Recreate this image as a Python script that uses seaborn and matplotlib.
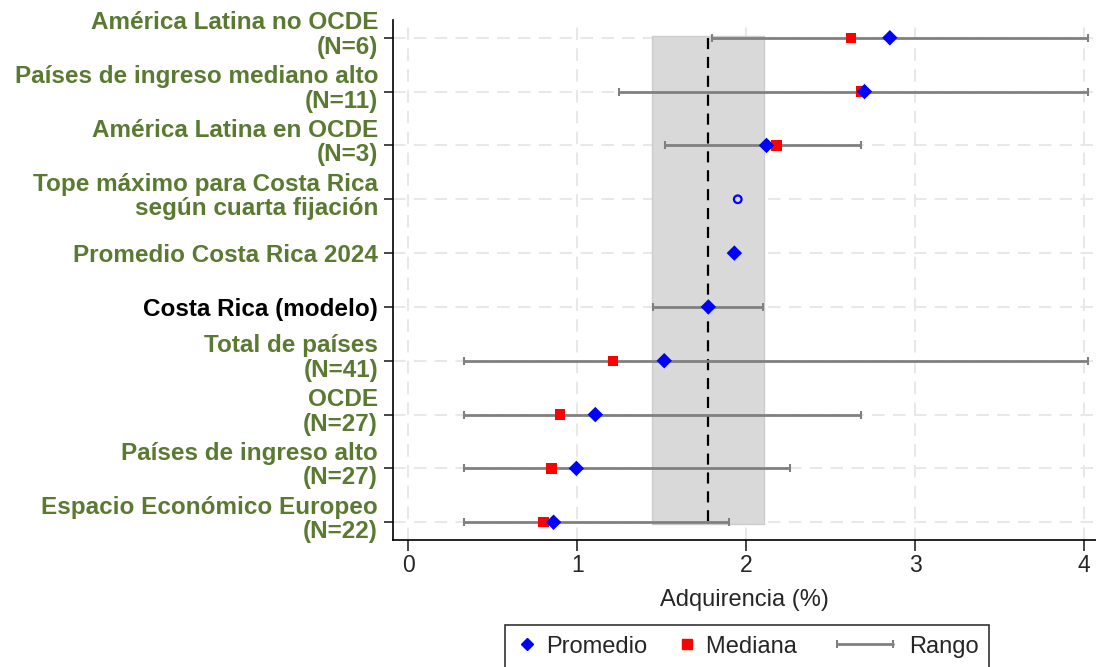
"""Adquirencia por grupo de países: promedio, mediana y rango."""

import matplotlib
matplotlib.use("Agg")

import matplotlib.pyplot as plt
import matplotlib.transforms as mtransforms
import numpy as np
import pandas as pd
import seaborn as sns
from matplotlib.legend_handler import HandlerLine2D
from matplotlib.lines import Line2D


grupos = [
    "América Latina no OCDE\n(N=6)",
    "Países de ingreso mediano alto\n(N=11)",
    "América Latina en OCDE\n(N=3)",
    "Tope máximo para Costa Rica\nsegún cuarta fijación",
    "Promedio Costa Rica 2024",
    "Costa Rica (modelo)",
    "Total de países\n(N=41)",
    "OCDE\n(N=27)",
    "Países de ingreso alto\n(N=27)",
    "Espacio Económico Europeo\n(N=22)",
]
promedio = [2.85, 2.70, 2.12, np.nan, 1.93, 1.776, 1.515, 1.107, 0.995, 0.86]
mediana = [2.62, 2.68, 2.18, np.nan, np.nan, np.nan, 1.21, 0.90, 0.848, 0.80]
minimo = [1.80, 1.25, 1.52, np.nan, np.nan, 1.448, 0.328, 0.328, 0.328, 0.328]
maximo = [4.02, 4.02, 2.68, np.nan, np.nan, 2.10, 4.02, 2.68, 2.26, 1.90]
tope_cr = 1.95

VERDE = "#5A7A32"
AZUL = "#0000FF"
ROJO = "#FF0000"
GRIS = "#808080"


class HandlerRango(HandlerLine2D):
    """Línea del rango más larga que la caja del handle, hacia la izquierda."""

    def get_xdata(self, legend, xdescent, ydescent, width, height, fontsize):
        x0 = -xdescent - 1.74 * fontsize
        x1 = -xdescent + width - 0.38 * fontsize
        return np.array([x0, x1]), np.array([x0, x1])


df = pd.DataFrame(
    {"grupo": grupos, "promedio": promedio, "mediana": mediana, "minimo": minimo, "maximo": maximo}
)
df["pos"] = np.arange(len(df))

sns.set_style("white")
plt.rcParams["font.family"] = ["Liberation Sans", "DejaVu Sans"]

fig = plt.figure(figsize=(10.96, 6.67), dpi=100)
ax = fig.add_axes([0.3586, 0.1904, 0.6414, 0.7796])

# grilla punteada
for xv in range(5):
    ax.axvline(xv, color="#e8e8e8", lw=1.5, ls=(0, (6, 4)), zorder=0)
for yv in df["pos"]:
    ax.axhline(yv, color="#e8e8e8", lw=1.5, ls=(0, (6, 4)), zorder=0)

# banda del modelo de Costa Rica
cr = df[df["grupo"] == "Costa Rica (modelo)"].iloc[0]
ax.fill_betweenx([-0.03, len(df) - 1 + 0.03], cr["minimo"] - 0.004, cr["maximo"] + 0.008,
                 color="#d9d9d9", ec="#cccccc", lw=1, zorder=1)
ax.plot([cr["promedio"], cr["promedio"]], [0, len(df) - 1], color="black",
        lw=1.6, ls=(0, (5, 3.5)), zorder=2)

# rangos
rng = df.dropna(subset=["minimo"])
ax.errorbar(
    x=(rng["minimo"] + rng["maximo"]) / 2,
    y=rng["pos"],
    xerr=(rng["maximo"] - rng["minimo"]) / 2,
    fmt="none", ecolor=GRIS, elinewidth=2, capsize=3.2, capthick=1.5, zorder=3,
)

sns.scatterplot(data=df, x="mediana", y="pos", marker="s", color=ROJO, s=55,
                edgecolor="none", ax=ax, zorder=4, legend=False)
sns.scatterplot(data=df, x="promedio", y="pos", marker="D", color=AZUL, s=62,
                edgecolor="none", ax=ax, zorder=5, legend=False)
ax.scatter([tope_cr], [grupos.index("Tope máximo para Costa Rica\nsegún cuarta fijación")],
           marker="o", s=30, facecolors="none", edgecolors=AZUL, linewidths=1.6, zorder=5)

ax.set_xlim(-0.09, 4.07)
ax.set_ylim(len(df) - 1 + 0.33, -0.33)
ax.set_xticks(range(5))
ax.set_yticks(df["pos"])
ax.tick_params(axis="x", labelsize=16.5, length=8, width=1.2, direction="out", bottom=True, pad=2)
ax.tick_params(axis="y", length=6.5, width=1.2, direction="out", left=True, labelleft=False)

# etiquetas de grupo (las de dos líneas van un poco más arriba)
base = ax.get_yaxis_transform()
for pos, texto in zip(df["pos"], grupos):
    dy = 6 / 100 if "\n" in texto else 0
    tr = base + mtransforms.ScaledTranslation(-15 / 100, dy, fig.dpi_scale_trans)
    ax.text(0, pos, texto, transform=tr, ha="right", va="center_baseline", fontsize=17.5,
            fontweight="bold", linespacing=1.08,
            color="black" if texto == "Costa Rica (modelo)" else VERDE)

ax.set_xlabel("Adquirencia (%)", fontsize=17, labelpad=9)
ax.set_ylabel("")

for s in ["top", "right"]:
    ax.spines[s].set_visible(False)
for s in ["left", "bottom"]:
    ax.spines[s].set_color("black")
    ax.spines[s].set_linewidth(1.2)

handles = [
    Line2D([], [], ls="none", marker="D", color=AZUL, markersize=6.5),
    Line2D([], [], ls="none", marker="s", color=ROJO, markersize=7),
    Line2D([], [], color=GRIS, lw=2, marker="|", markersize=6, markeredgewidth=1.5),
]
leg = fig.legend(
    handles, ["Promedio", "Mediana" + "\u00a0" * 8, "Rango"],
    loc="upper center", bbox_to_anchor=(0.6815, 0.063), ncol=3, fontsize=17,
    frameon=True, fancybox=False, edgecolor="black", handlelength=1.0,
    handletextpad=0.3, columnspacing=1.2, borderpad=0.45, borderaxespad=0,
    handler_map={handles[2]: HandlerRango(numpoints=2)}, numpoints=1,
)
leg.get_frame().set_linewidth(1.2)

fig.savefig("out.png", dpi=100)
